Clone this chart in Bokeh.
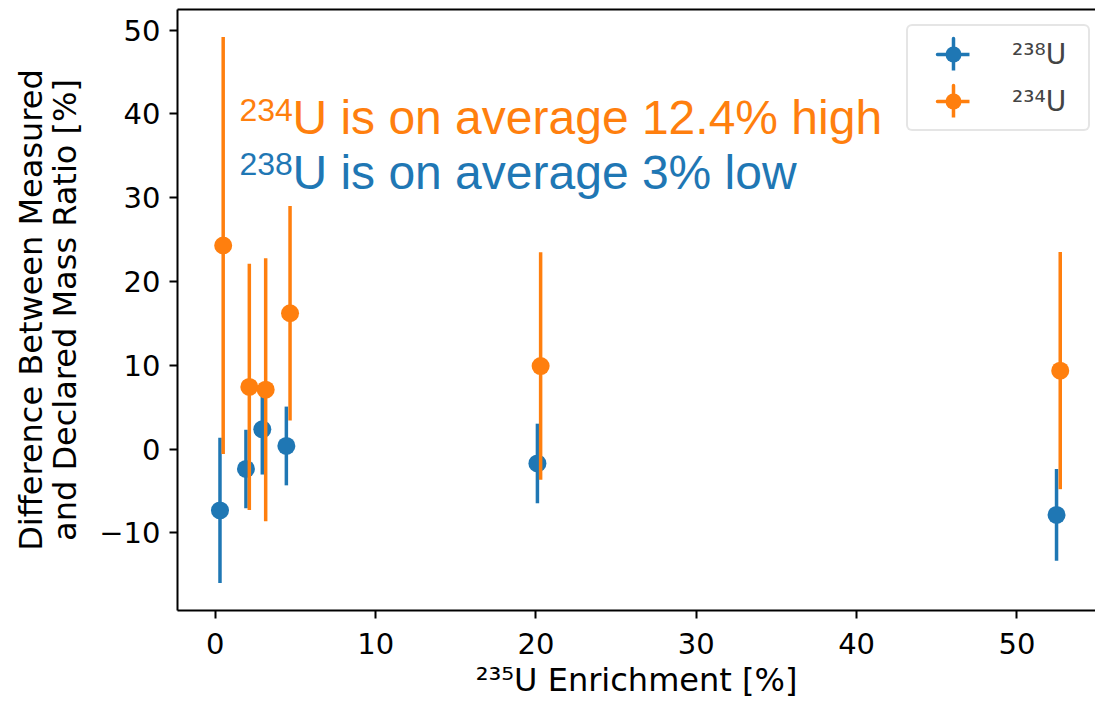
import numpy as np
from bokeh.plotting import figure
from bokeh.models import (Range1d, LinearAxis, FixedTicker, Label, Legend,
                          LegendItem, ColumnDataSource)
from bokeh.embed import file_html
from bokeh.resources import INLINE

BLUE = "#1f77b4"
ORANGE = "#ff7f0e"

# 238U series
enrich_238 = [0.29, 1.91, 2.93, 4.43, 20.09, 52.47]
diff_238 = [-7.33, -2.37, 2.36, 0.37, -1.72, -7.86]
err_238 = [8.67, 4.68, 5.40, 4.70, 4.75, 5.48]

# 234U series
enrich_234 = [0.49, 2.12, 3.14, 4.66, 20.29, 52.70]
diff_234 = [24.30, 7.42, 7.09, 16.21, 9.91, 9.36]
err_234 = [24.90, 14.70, 15.70, 12.80, 13.57, 14.15]

x_ticks = [0, 10, 20, 30, 40, 50]
y_ticks = [-10, 0, 10, 20, 30, 40, 50]

label_238 = "\u00b2\u00b3\u2078U"
label_234 = "\u00b2\u00b3\u2074U"
x_label = "\u00b2\u00b3\u2075U Enrichment [%]"
y_label = "Difference Between Measured\nand Declared Mass Ratio [%]"

p = figure(width=1095, height=701, output_backend="svg", toolbar_location=None,
           x_range=Range1d(-2.36, 54.9), y_range=Range1d(-19.27, 52.47),
           min_border_left=177, min_border_right=0, min_border_top=9,
           min_border_bottom=91)
p.xgrid.visible = False
p.ygrid.visible = False
p.outline_line_color = None
p.background_fill_color = "white"
p.border_fill_color = "white"

for ax in (p.xaxis[0], p.yaxis[0]):
    ax.axis_line_width = 2
    ax.axis_line_color = "black"
    ax.major_tick_line_width = 2
    ax.major_tick_line_color = "black"
    ax.major_tick_out = 8
    ax.major_tick_in = 0
    ax.minor_tick_line_color = None
    ax.major_label_text_font = "DejaVu Sans"
    ax.major_label_text_font_size = "29px"
    ax.major_label_text_color = "black"
    ax.axis_label_text_font = "DejaVu Sans"
    ax.axis_label_text_font_size = "32px"
    ax.axis_label_text_font_style = "normal"
    ax.axis_label_text_color = "black"

p.xaxis[0].ticker = FixedTicker(ticks=x_ticks)
p.yaxis[0].ticker = FixedTicker(ticks=y_ticks)
p.yaxis[0].major_label_overrides = {t: (("\u2212" + str(-t)) if t < 0 else str(t)) for t in y_ticks}
p.xaxis[0].axis_label = x_label
p.yaxis[0].axis_label = y_label
p.yaxis[0].axis_label_text_line_height = 0.9
p.xaxis[0].major_label_standoff = 14
p.yaxis[0].major_label_standoff = 9
p.xaxis[0].axis_label_standoff = 4
p.yaxis[0].axis_label_standoff = 12

top = LinearAxis(ticker=FixedTicker(ticks=[]), axis_line_width=2, axis_line_color="black",
                 major_tick_line_color=None, minor_tick_line_color=None,
                 major_label_text_font_size="0px")
p.add_layout(top, "above")

def series(xs, ys, es, color):
    src = ColumnDataSource(dict(x=xs, y=ys,
                                lo=[y - e for y, e in zip(ys, es)],
                                hi=[y + e for y, e in zip(ys, es)]))
    p.segment(x0="x", y0="lo", x1="x", y1="hi", source=src,
              line_color=color, line_width=3.5)
    dot = p.scatter("x", "y", source=src, size=18, fill_color=color, line_color=None)
    # legend-only glyphs: thin ellipses render as the horizontal / vertical error arms
    harm = p.ellipse(x=[np.nan], y=[np.nan], width=30, height=0.01,
                     width_units="screen", height_units="screen",
                     fill_color=color, line_color=color, line_width=3.5)
    varm = p.ellipse(x=[np.nan], y=[np.nan], width=0.01, height=30,
                     width_units="screen", height_units="screen",
                     fill_color=color, line_color=color, line_width=3.5)
    return [harm, varm, dot]

r238 = series(enrich_238, diff_238, err_238, BLUE)
r234 = series(enrich_234, diff_234, err_234, ORANGE)

legend = Legend(items=[LegendItem(label=label_238, renderers=r238),
                       LegendItem(label=label_234, renderers=r234)],
                location=(729, 479), padding=8, spacing=7,
                glyph_width=74, glyph_height=40, label_height=40,
                label_standoff=22, label_width=68,
                label_text_font="DejaVu Sans", label_text_font_size="28px",
                border_line_color="#cccccc", border_line_width=2,
                border_radius=6, background_fill_alpha=0.8)
p.add_layout(legend, "center")

FONT = "Liberation Sans"
ann = [("234", "U is on average 12.4% high", ORANGE, 37.4),
       ("238", "U is on average 3% low", BLUE, 30.9)]
for sup, main, col, yv in ann:
    p.add_layout(Label(x=1.5, y=yv, text=sup, text_font=FONT, text_font_size="32px",
                       text_color=col, y_offset=26, text_baseline="alphabetic"))
    p.add_layout(Label(x=1.5, y=yv, x_offset=53, y_offset=18, text=main, text_font=FONT,
                       text_font_size="48px", text_color=col, text_baseline="alphabetic"))

open("out.html", "w").write(file_html(p, INLINE))
